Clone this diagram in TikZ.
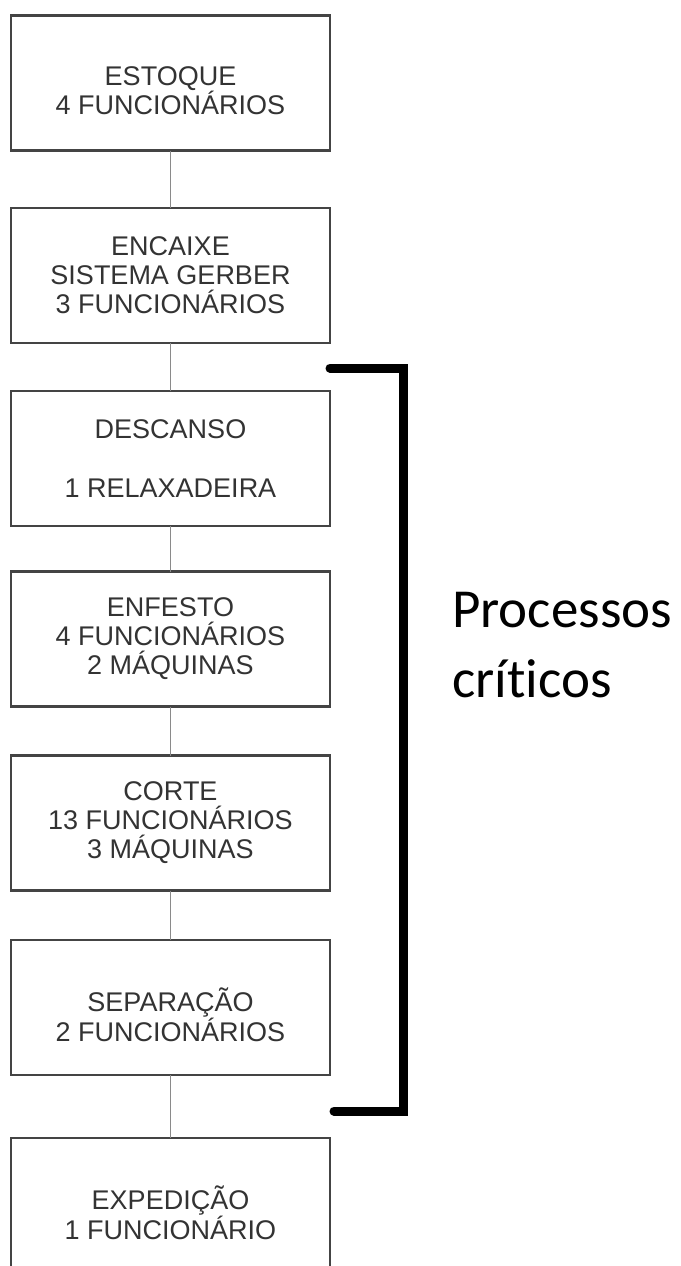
\documentclass[tikz,border=0pt]{standalone}
\usepackage{fontspec}
\setmainfont{Liberation Sans}
\newfontfamily\calfont[Ligatures={NoCommon,NoDiscretionary,NoContextual}]{Carlito}
\definecolor{boxline}{HTML}{444444}
\definecolor{boxtext}{HTML}{333333}
\definecolor{connline}{HTML}{8A8A8A}
\begin{document}
\begin{tikzpicture}[x=1pt,y=-1pt,
  stage/.style={draw=boxline, line width=2.4pt, fill=white, minimum width=319pt,
    minimum height=135pt, inner sep=0pt, outer sep=0pt},
  lbl/.style={font=\fontsize{27}{29}\selectfont, text=boxtext, align=center, inner sep=0pt},
  conn/.style={draw=connline, line width=1pt},
  brk/.style={draw=black, line width=9pt, line cap=round, line join=miter},
  note/.style={font=\calfont\fontsize{55}{70}\selectfont, align=left, anchor=north west, inner sep=0pt}]
\useasboundingbox (0,0) rectangle (680,1266);
\clip (0,0) rectangle (680,1266);
\fill[white] (0,0) rectangle (680,1266);
% boxes
\node[stage] (b1) at (170.5,83) {};
\node[stage] (b2) at (170.5,275.5) {};
\node[stage] (b3) at (170.5,458.5) {};
\node[stage] (b4) at (170.5,639) {};
\node[stage] (b5) at (170.5,823) {};
\node[stage] (b6) at (170.5,1007.5) {};
\node[stage] (b7) at (170.5,1205.5) {};
% connectors
\draw[conn] (b1.south) -- (b2.north);
\draw[conn] (b2.south) -- (b3.north);
\draw[conn] (b3.south) -- (b4.north);
\draw[conn] (b4.south) -- (b5.north);
\draw[conn] (b5.south) -- (b6.north);
\draw[conn] (b6.south) -- (b7.north);
% texts
\node[lbl] (t1) at ([yshift=-8pt]b1.center) {ESTOQUE\\4 FUNCIONÁRIOS};
\node[lbl] (t2) at (b2.center) {ENCAIXE\\SISTEMA GERBER\\3 FUNCIONÁRIOS};
\node[lbl] (t3) at (b3.center) {DESCANSO\\[30pt]1 RELAXADEIRA};
\node[lbl] (t4) at (b4.center) {ENFESTO\\4 FUNCIONÁRIOS\\2 MÁQUINAS};
\node[lbl] (t5) at (b5.center) {CORTE\\13 FUNCIONÁRIOS\\3 MÁQUINAS};
\node[lbl] (t6) at ([yshift=-7pt]b6.center) {SEPARAÇÃO\\2 FUNCIONÁRIOS};
\node[lbl] (t7) at ([yshift=-7pt]b7.center) {EXPEDIÇÃO\\1 FUNCIONÁRIO};
% bracket
\coordinate (bk1) at (330,368);
\coordinate (bk2) at (403.5,368);
\coordinate (bk3) at (403.5,1111);
\coordinate (bk4) at (334,1111);
\draw[brk] (bk1) -- (bk2) -- (bk3) -- (bk4);
% note
\node[note] (crit) at (452,592) {Processos\\críticos};
\end{tikzpicture}
\end{document}
